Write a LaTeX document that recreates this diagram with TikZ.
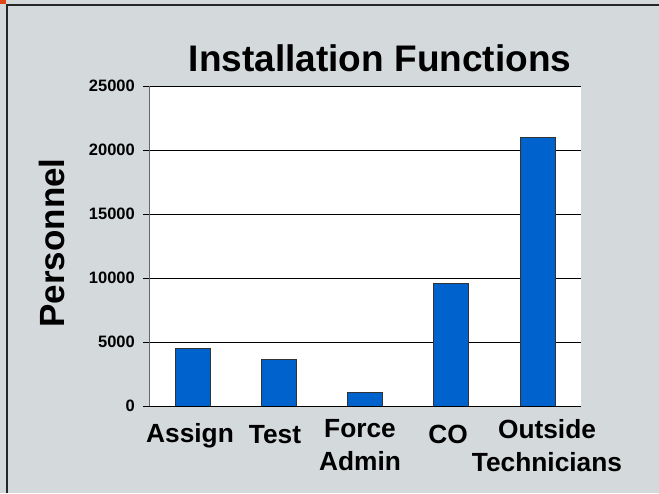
\documentclass[tikz,border=0pt]{standalone}
\usepackage{fontspec}
\setmainfont{Liberation Sans}
\definecolor{bgcol}{RGB}{212,217,220}
\definecolor{barblue}{RGB}{0,98,204}
\definecolor{cornermark}{RGB}{222,70,20}
\begin{document}
\begin{tikzpicture}[x=1pt,y=-1pt,
  ticklab/.style={anchor=east,inner sep=0pt,font=\fontsize{16.5}{18}\selectfont\bfseries},
  catlab/.style={anchor=base,inner sep=0pt,align=center,font=\fontsize{26.3}{33}\selectfont\bfseries},
  barbox/.style={fill=barblue,draw=black!80,line width=0.8pt},
  gridline/.style={draw=black,line width=0.9pt}]
\useasboundingbox (0,0) rectangle (659,493);
\fill[bgcol] (0,0) rectangle (659,493);
\fill[cornermark] (0,0) rectangle (6,4);
\draw[line width=2pt,black!85] (7,493) -- (7,5) -- (659,5);
% plot area
\fill[white] (149,86) rectangle (581,406);
\foreach \yy in {86,150,214,278,342,406}{
  \draw[gridline] (143,\yy) -- (581,\yy);
}
\draw[black!60,line width=1pt] (149,86) -- (149,406);
% bars
\draw[barbox] (175,406) rectangle (210,348.4);
\draw[barbox] (261,406) rectangle (296,359.3);
\draw[barbox] (347,406) rectangle (382,391.9);
\draw[barbox] (433,406) rectangle (468,283.7);
\draw[barbox] (520,406) rectangle (555,137.2);
\draw[black,line width=1pt] (149,406) -- (581,406);
% tick labels
\node[ticklab] (t0) at (135,406) {0};
\node[ticklab] (t1) at (135,342) {5000};
\node[ticklab] (t2) at (135,278) {10000};
\node[ticklab] (t3) at (135,214) {15000};
\node[ticklab] (t4) at (135,150) {20000};
\node[ticklab] (t5) at (135,86) {25000};
% title
\node[anchor=base,inner sep=0pt,font=\fontsize{37}{40}\selectfont\bfseries] (title) at (380,71) {Installation Functions};
% axis label
\node[rotate=90,inner sep=0pt,font=\fontsize{35}{38}\selectfont\bfseries] (ylab) at (52,243) {Personnel};
% category labels
\node[catlab] (c1) at (190,442) {Assign};
\node[catlab] (c2) at (275,443) {Test};
\node[catlab] (c3) at (360,470) {Force\\Admin};
\node[catlab] (c4) at (448,443) {CO};
\node[catlab] (c5) at (547,471) {Outside\\Technicians};
\end{tikzpicture}
\end{document}
